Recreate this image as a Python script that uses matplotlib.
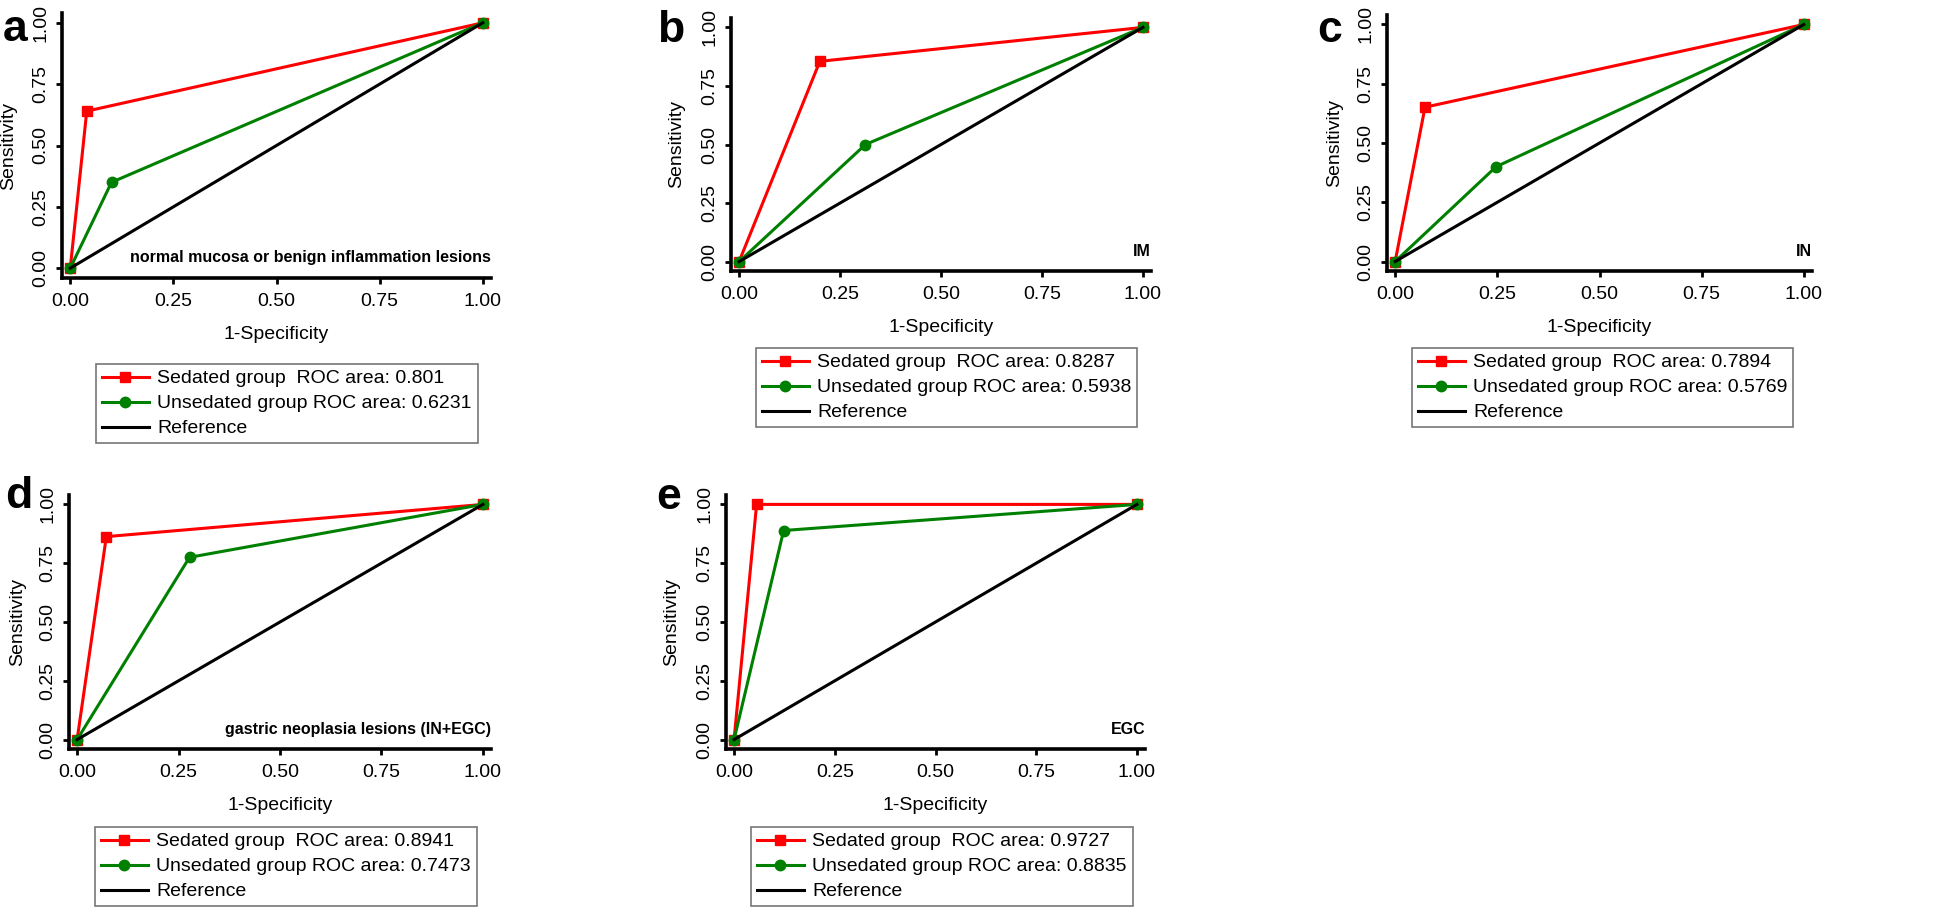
import matplotlib
matplotlib.use("Agg")
import matplotlib.pyplot as plt

plt.rcParams["font.family"] = ["Liberation Sans", "DejaVu Sans"]

panel_letters = ["a", "b", "c", "d", "e"]
panel_notes = [
    "normal mucosa or benign inflammation lesions",
    "IM",
    "IN",
    "gastric neoplasia lesions (IN+EGC)",
    "EGC",
]

# one operating point per group (1-specificity, sensitivity)
sedated_fpr = [0.04, 0.20, 0.073, 0.072, 0.056]
sedated_tpr = [0.64, 0.855, 0.651, 0.863, 1.0]
unsedated_fpr = [0.10, 0.313, 0.247, 0.277, 0.123]
unsedated_tpr = [0.35, 0.50, 0.40, 0.775, 0.889]
sedated_auc = ["0.801", "0.8287", "0.7894", "0.8941", "0.9727"]
unsedated_auc = ["0.6231", "0.5938", "0.5769", "0.7473", "0.8835"]

ticks = [0.0, 0.25, 0.5, 0.75, 1.0]
tick_labels = ["0.00", "0.25", "0.50", "0.75", "1.00"]

W, H = 1946, 923
# axes boxes in pixels: left, top, right, bottom
boxes = [
    (62, 13, 491, 278),
    (731, 18, 1151, 271),
    (1387, 15, 1812, 271),
    (69, 495, 491, 749),
    (726, 495, 1145, 749),
]
ylabel_x = [17, 685, 1343, 26, 680]  # right edge of the rotated label
legend_corners = [(96, 364), (756, 348), (1412, 348), (95, 827), (751, 827)]
letter_pos = [(3, 41), (657, 42), (1317, 42), (5, 508), (656, 509)]

fs = 14
fig = plt.figure(figsize=(W / 100, H / 100), dpi=100)

for i in range(5):
    l, t, r, b = boxes[i]
    ax = fig.add_axes([l / W, 1 - b / H, (r - l) / W, (b - t) / H])

    ax.plot([0, sedated_fpr[i], 1], [0, sedated_tpr[i], 1], color="#ff0000",
            lw=2.2, marker="s", ms=7.5,
            label=f"Sedated group  ROC area: {sedated_auc[i]}")
    ax.plot([0, unsedated_fpr[i], 1], [0, unsedated_tpr[i], 1], color="#008000",
            lw=2.2, marker="o", ms=7.5,
            label=f"Unsedated group ROC area: {unsedated_auc[i]}")
    ax.plot([0, 1], [0, 1], color="black", lw=2.2, label="Reference")

    ax.set_xlim(-0.02, 1.02)
    ax.set_ylim(-0.04, 1.04)
    ax.set_xticks(ticks)
    ax.set_xticklabels(tick_labels)
    ax.set_yticks(ticks)
    ax.set_yticklabels(tick_labels, rotation=90, va="center")
    ax.tick_params(labelsize=fs, length=4, width=2, pad=5)
    ax.tick_params(axis="x", pad=7)
    for side in ["top", "right"]:
        ax.spines[side].set_visible(False)
    for side in ["left", "bottom"]:
        ax.spines[side].set_linewidth(2.6)

    ax.set_xlabel("1-Specificity", fontsize=fs, labelpad=11)
    ax.set_ylabel("Sensitivity", fontsize=fs)
    ax.yaxis.set_label_coords((ylabel_x[i] - l) / (r - l), 0.5)

    ax.text(1.02, 0.025, panel_notes[i], ha="right", va="baseline",
            fontsize=11.5, fontweight="bold")

    lx, ly = legend_corners[i]
    leg = ax.legend(loc="upper left", bbox_to_anchor=(lx / W, 1 - ly / H),
                    bbox_transform=fig.transFigure, borderaxespad=0,
                    fontsize=fs, numpoints=1, fancybox=False, framealpha=1,
                    edgecolor="#777777", handlelength=2.4, handletextpad=0.45,
                    borderpad=0.3, labelspacing=0.38)
    leg.get_frame().set_linewidth(1.2)

    px, py = letter_pos[i]
    fig.text(px / W, 1 - py / H, panel_letters[i], fontsize=32,
             fontweight="bold", va="baseline")

fig.savefig("out.png", dpi=100)
